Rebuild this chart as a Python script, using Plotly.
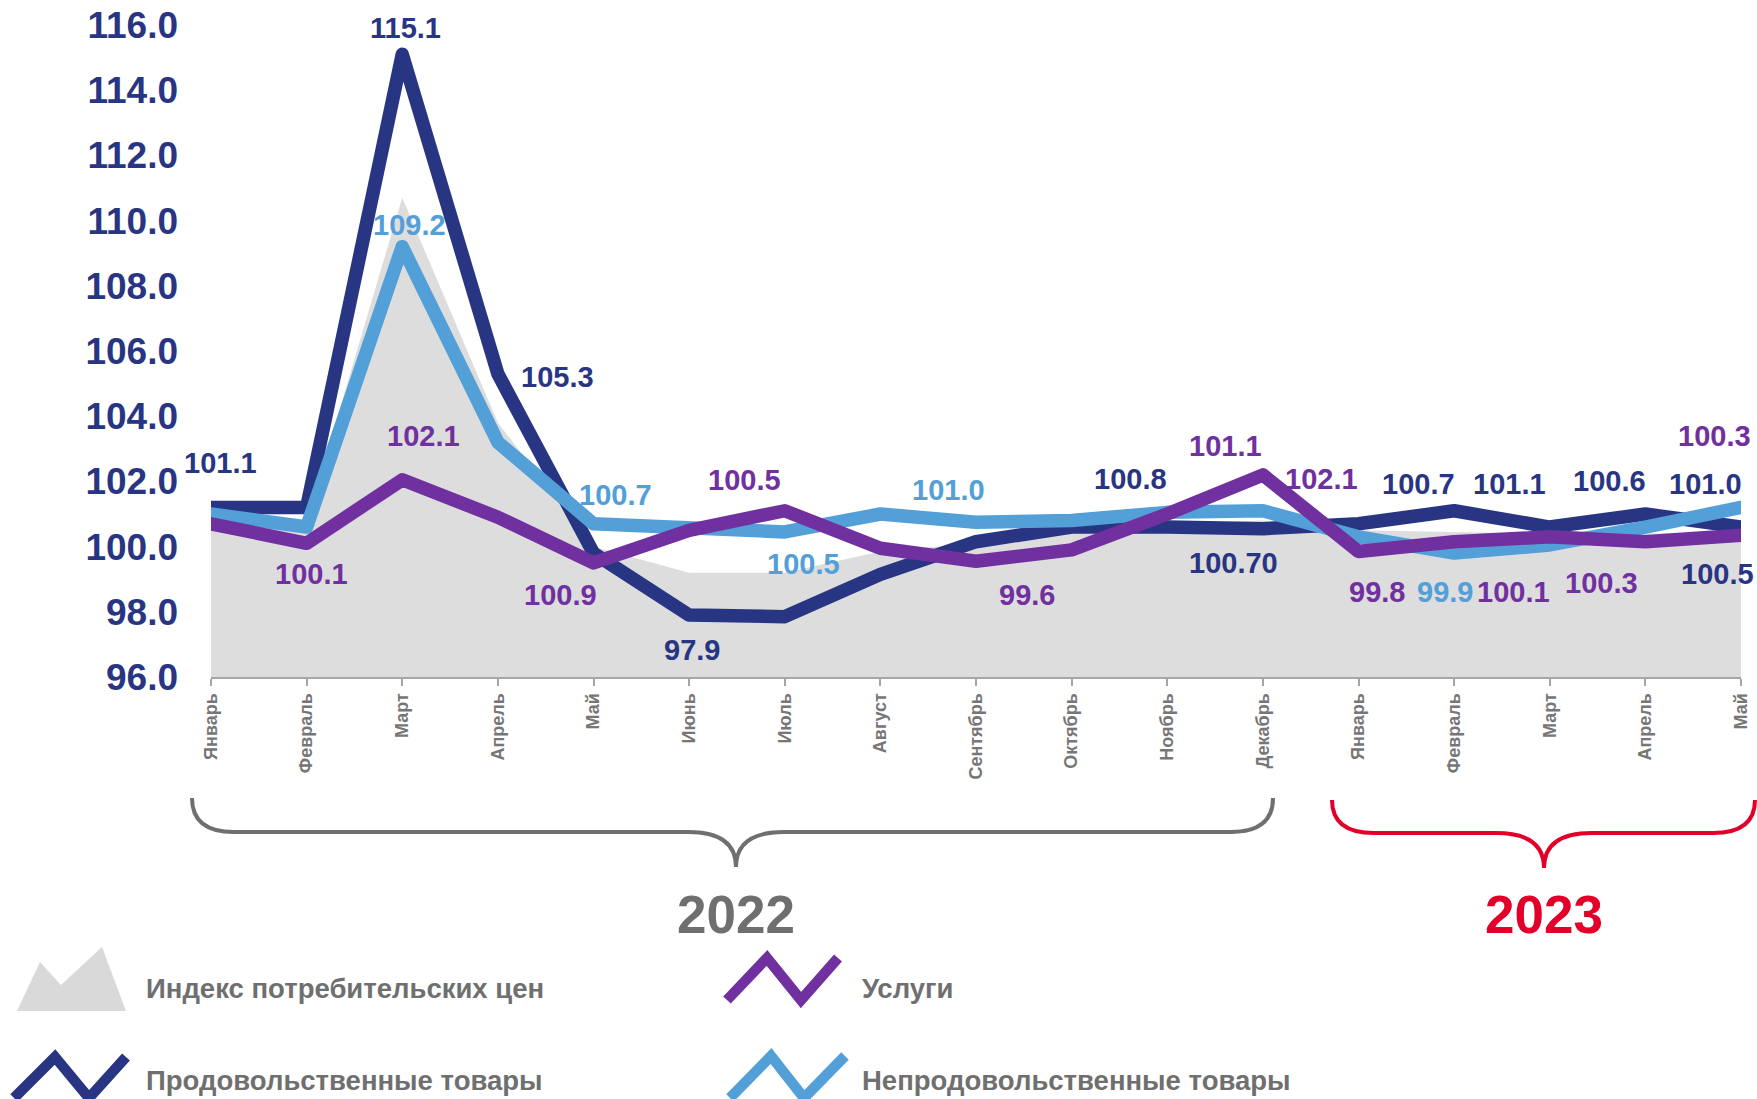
import plotly.graph_objects as go

# ---------------- data ----------------
months = ["Январь", "Февраль", "Март", "Апрель", "Май", "Июнь", "Июль", "Август",
          "Сентябрь", "Октябрь", "Ноябрь", "Декабрь", "Январь", "Февраль", "Март",
          "Апрель", "Май"]
cpi = [101.0, 100.8, 110.7, 103.8, 100.0, 99.2, 99.2, 99.85, 100.1, 100.4, 100.7,
       100.8, 100.5, 100.45, 100.4, 100.4, 100.4]
food = [101.2, 101.2, 115.1, 105.3, 99.8, 97.9, 97.85, 99.15, 100.15, 100.6, 100.6,
        100.55, 100.7, 101.1, 100.6, 101.0, 100.6]
nonfood = [101.0, 100.6, 109.2, 103.2, 100.7, 100.6, 100.45, 101.0, 100.75, 100.8,
           101.05, 101.1, 100.3, 99.8, 100.05, 100.6, 101.2]
services = [100.7, 100.1, 102.05, 100.9, 99.5, 100.5, 101.1, 99.95, 99.55, 99.9,
            101.0, 102.2, 99.85, 100.15, 100.3, 100.15, 100.35]
y_ticks = [96, 98, 100, 102, 104, 106, 108, 110, 112, 114, 116]

series_names = ["Индекс потребительских цен", "Продовольственные товары",
                "Непродовольственные товары", "Услуги"]
years = ["2022", "2023"]

# data labels: (text, series key)
label_texts = ["101.1", "115.1", "109.2", "105.3", "102.1", "100.1", "100.7", "100.9",
               "100.5", "97.9", "100.5", "101.0", "99.6", "100.8", "101.1", "100.70",
               "102.1", "100.7", "101.1", "100.6", "101.0", "100.3", "99.8", "99.9",
               "100.1", "100.3", "100.5"]
label_series = ["food", "food", "nonfood", "food", "serv", "serv", "nonfood", "serv",
                "serv", "food", "nonfood", "nonfood", "serv", "food", "serv", "food",
                "serv", "food", "food", "food", "food", "serv", "serv", "nonfood",
                "serv", "serv", "food"]
# label anchor positions (category index, value axis)
label_pos = [(0.10, 102.56), (2.03, 115.9), (2.08, 109.85), (3.62, 105.21),
             (2.22, 103.39), (1.05, 99.16), (4.23, 101.57), (3.65, 98.51),
             (5.575, 102.05), (5.025, 96.83), (6.2, 99.47), (7.71, 101.74),
             (8.53, 98.51), (9.62, 102.08), (10.61, 103.08), (10.69, 99.5),
             (11.61, 102.08), (12.63, 101.91), (13.58, 101.91), (14.63, 102.02),
             (15.63, 101.91), (15.72, 103.39), (12.19, 98.61), (12.9, 98.61),
             (13.62, 98.61), (14.54, 98.89), (15.75, 99.16)]

# ---------------- styles ----------------
NAVY = "#283583"
LBLUE = "#52A0D7"
PURPLE = "#7030A0"
GREYFILL = "#DDDDDD"
TEXTGREY = "#6F6F6F"
RED = "#E2002B"
FONT = "Arial, Liberation Sans, sans-serif"
colors = {"food": NAVY, "nonfood": LBLUE, "serv": PURPLE}
LW = 13.5

W, H = 1757, 1099
ML, MR, MT, MB = 211, 16, 25, 422
PW, PH = W - ML - MR, H - MT - MB


def px(xp, yp):
    return (xp - ML) / PW, (H - MB - yp) / PH


def path(cmds):
    out = []
    for c in cmds:
        op, pts = c[0], c[1:]
        coords = []
        for (a, b) in pts:
            u, v = px(a, b)
            coords.append(f"{u:.5f},{v:.5f}")
        out.append(op + " " + " ".join(coords))
    return " ".join(out)


x = list(range(len(months)))

fig = go.Figure()
fig.add_trace(go.Scatter(x=x, y=cpi, mode="lines", fill="tozeroy",
                         fillcolor=GREYFILL, line=dict(color=GREYFILL, width=0),
                         name=series_names[0], hoverinfo="skip"))
fig.add_trace(go.Scatter(x=x, y=food, mode="lines", line=dict(color=NAVY, width=LW),
                         name=series_names[1]))
fig.add_trace(go.Scatter(x=x, y=nonfood, mode="lines", line=dict(color=LBLUE, width=LW),
                         name=series_names[2]))
fig.add_trace(go.Scatter(x=x, y=services, mode="lines", line=dict(color=PURPLE, width=LW),
                         name=series_names[3]))

annotations = []
for t, s, (lx, ly) in zip(label_texts, label_series, label_pos):
    annotations.append(dict(x=lx, y=ly, xref="x", yref="y", text=t, showarrow=False,
                            font=dict(family=FONT, size=29, color=colors[s], weight="bold"),
                            xanchor="center", yanchor="middle"))

# year labels
for yr, cx, col in zip(years, [736, 1544], [TEXTGREY, RED]):
    u, v = px(cx, 915)
    annotations.append(dict(x=u, y=v, xref="paper", yref="paper", text=yr, showarrow=False,
                            font=dict(family=FONT, size=53, color=col, weight="bold"),
                            xanchor="center", yanchor="middle"))

# legend texts
for name, (lx, ly) in zip([series_names[0], series_names[3], series_names[1], series_names[2]],
                          [(144, 988), (860, 988), (144, 1080), (860, 1080)]):
    u, v = px(lx, ly)
    annotations.append(dict(x=u, y=v, xref="paper", yref="paper", text=name, showarrow=False,
                            font=dict(family=FONT, size=27.5, color=TEXTGREY, weight="bold"),
                            xanchor="left", yanchor="middle"))

shapes = []


def brace(L, R, mid, T, Hh, tip, col):
    d = path([("M", (L, T)), ("Q", (L, Hh), (L + 42, Hh)), ("L", (mid - 48, Hh)),
              ("Q", (mid, Hh), (mid, tip)), ("Q", (mid, Hh), (mid + 48, Hh)),
              ("L", (R - 42, Hh)), ("Q", (R, Hh), (R, T))])
    return dict(type="path", path=d, xref="paper", yref="paper",
                line=dict(color=col, width=4), fillcolor="rgba(0,0,0,0)")


shapes.append(brace(192, 1273, 736, 798, 832, 867, TEXTGREY))
shapes.append(brace(1332, 1755, 1544, 800, 833, 868, RED))

# legend icons
shapes.append(dict(type="path", xref="paper", yref="paper",
                   path=path([("M", (17, 1011)), ("L", (40, 962)), ("L", (61, 985)),
                              ("L", (102, 947)), ("L", (126, 1011))]) + " Z",
                   fillcolor="#D9D9D9", line=dict(width=0)))
for pts, col in [([(727, 1000), (767, 958), (801, 1000), (838, 958)], PURPLE),
                 ([(14, 1098), (55, 1057), (89, 1098), (126, 1057)], NAVY),
                 ([(730, 1098), (771, 1056), (804, 1098), (845, 1056)], LBLUE)]:
    cmds = [("M", pts[0])] + [("L", p) for p in pts[1:]]
    shapes.append(dict(type="path", xref="paper", yref="paper", path=path(cmds),
                       line=dict(color=col, width=10.5)))

fig.update_layout(
    width=W, height=H,
    margin=dict(l=ML, r=MR, t=MT, b=MB, autoexpand=False),
    paper_bgcolor="white", plot_bgcolor="white",
    showlegend=False,
    annotations=annotations,
    shapes=shapes,
    xaxis=dict(range=[0, 16], tickvals=x, ticktext=months, tickangle=-90,
               showgrid=False, zeroline=False, showline=True, linecolor="#A6A6A6",
               linewidth=2, ticks="outside", ticklen=7, tickwidth=2, tickcolor="#A6A6A6",
               tickfont=dict(family=FONT, size=18, color="#767676", weight="bold"),
               fixedrange=True),
    yaxis=dict(range=[96, 116], tickvals=y_ticks, tickformat=".1f", showgrid=False,
               zeroline=False, showline=False, ticks="", ticklabelstandoff=32,
               tickfont=dict(family=FONT, size=37, color=NAVY, weight="bold"),
               fixedrange=True),
)

post = ("document.body.style.margin='0';document.body.style.overflow='hidden';"
        "document.querySelectorAll('.scatterlayer .js-line').forEach(function(p){"
        "p.style.strokeLinejoin='round';p.style.strokeLinecap='round';});")
fig.write_html("out.html", post_script=post, config={"displayModeBar": False})
